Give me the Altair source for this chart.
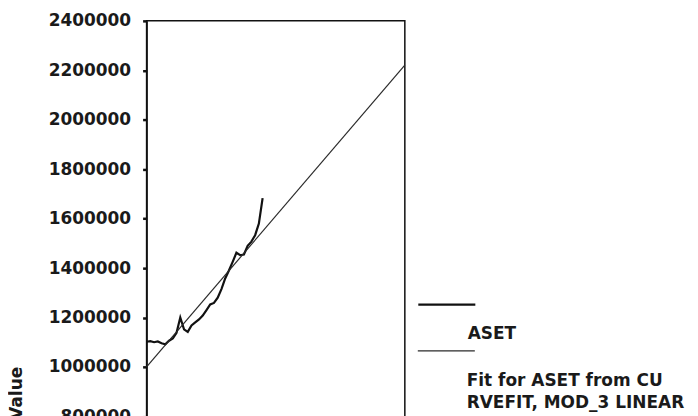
import altair as alt
import pandas as pd

# ---- data ----
aset_period = list(range(1, 33))
aset_value = [1102000, 1104000, 1100000, 1103000, 1096000, 1092000, 1106000, 1115000,
              1138000, 1200000, 1152000, 1142000, 1168000, 1180000, 1192000, 1208000,
              1230000, 1253000, 1259000, 1280000, 1315000, 1358000, 1390000, 1425000,
              1462000, 1452000, 1455000, 1490000, 1507000, 1533000, 1580000, 1683000]

fit_period = [1, 70]
fit_value = [1000000, 2221000]

series_names = ["ASET", "Fit for ASET from CU RVEFIT, MOD_3 LINEAR"]
legend_lines = [["", "ASET"], ["", "Fit for ASET from CU", "RVEFIT, MOD_3 LINEAR"]]
y_ticks = [0, 200000, 400000, 600000, 800000, 1000000, 1200000, 1400000, 1600000,
           1800000, 2000000, 2200000, 2400000]

rows = []
for p, v in zip(aset_period, aset_value):
    rows.append({"period": p, "value": v, "series": series_names[0], "series_b": series_names[0]})
for p, v in zip(fit_period, fit_value):
    rows.append({"period": p, "value": v, "series": series_names[1], "series_b": series_names[1]})
df = pd.DataFrame(rows)

def js_list(lst):
    return "[" + ",".join("'" + s + "'" for s in lst) + "]"

FONT = "DejaVu Sans"
common = dict(
    title=None, orient="none",
    symbolType="M-1,0H1.6", symbolSize=1936, symbolFillColor="transparent",
    labelBaseline="top", labelFont=FONT, labelFontSize=17, labelFontWeight="bold",
    labelColor="#1a1a1a", labelLimit=400, labelOffset=4, padding=0,
)

leg_a = alt.Legend(values=[series_names[0]], legendX=271, legendY=261,
                   labelExpr=js_list(legend_lines[0]), symbolStrokeWidth=2.2,
                   **common)
leg_b = alt.Legend(values=[series_names[1]], legendX=271, legendY=308,
                   labelExpr=js_list(legend_lines[1]), symbolStrokeColor="#2a2a2a",
                   **common)

chart = alt.Chart(df).mark_line(interpolate="linear").encode(
    x=alt.X("period:Q", scale=alt.Scale(domain=[1, 70], nice=False, zero=False), axis=None),
    y=alt.Y("value:Q",
            scale=alt.Scale(domain=[0, 2400000], nice=False, zero=False),
            axis=alt.Axis(values=y_ticks, title="Value", format="d", grid=False,
                          tickSize=4, tickWidth=2.5, tickColor="#111111",
                          domainColor="#111111", domainWidth=1.5,
                          labelFont=FONT, labelFontSize=17, labelFontWeight="bold",
                          labelColor="#1a1a1a", labelPadding=12,
                          titleFont=FONT, titleFontSize=17, titleFontWeight="bold",
                          titleColor="#1a1a1a", titleAngle=270, titleX=-121, titleY=373,
                          titleAlign="center", titleBaseline="bottom")),
    color=alt.Color("series:N", scale=alt.Scale(domain=series_names, range=["#111111", "#2a2a2a"]),
                    legend=leg_a),
    strokeWidth=alt.StrokeWidth("series_b:N",
                                scale=alt.Scale(domain=[series_names[1], series_names[0]],
                                                range=[1.2, 2.2]),
                                legend=leg_b),
    order="period:Q",
).properties(
    width=259, height=595,
    padding={"left": 0, "top": 3, "right": 5, "bottom": 5},
).configure(
    font=FONT, background="white",
    style={"guide-label": {"lineHeight": 22}},
    view=alt.ViewConfig(stroke="#111111", strokeWidth=1.5),
)

chart.save("out.html", embed_options={"renderer": "svg", "actions": False})
